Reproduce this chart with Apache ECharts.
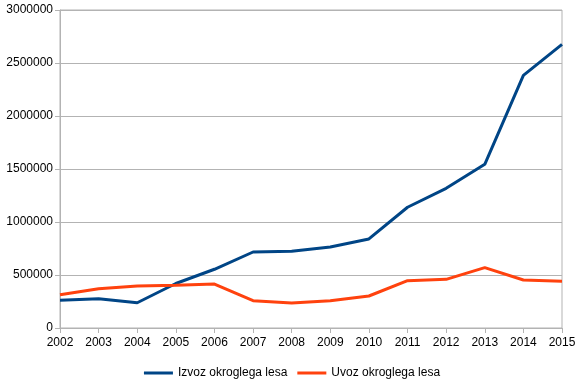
<!DOCTYPE html>
<html><head><meta charset="utf-8">
<script src="https://cdn.jsdelivr.net/npm/echarts@6/dist/echarts.min.js"></script>
<style>html,body{margin:0;padding:0;background:#fff}#c{width:584px;height:387px}</style>
</head><body><div id="c"></div>
<script>
const years = ['2002','2003','2004','2005','2006','2007','2008','2009','2010','2011','2012','2013','2014','2015'];
const izvoz = [262000, 276000, 238000, 420000, 554000, 717000, 724000, 764000, 840000, 1139000, 1318000, 1544000, 2384000, 2676000];
const uvoz = [314000, 371000, 396000, 403000, 415000, 258000, 236000, 258000, 302000, 446000, 459000, 569000, 453000, 440000];
const seriesNames = ['Izvoz okroglega lesa', 'Uvoz okroglega lesa'];

const chart = echarts.init(document.getElementById('c'), null, {renderer: 'canvas'});
const font = 'Liberation Sans';
chart.setOption({
  animation: false,
  textStyle: {fontFamily: font},
  grid: {left: 60, right: 22, top: 10, bottom: 59, containLabel: false, show: true, borderColor: '#b3b3b3', borderWidth: 1},
  legend: {
    bottom: 3, left: 'center',
    itemWidth: 29, itemHeight: 3, itemGap: 10,
    icon: 'rect',
    textStyle: {fontFamily: font, fontSize: 12, color: '#000'},
    data: seriesNames
  },
  xAxis: {
    type: 'category', data: years, boundaryGap: false,
    axisLine: {lineStyle: {color: '#b3b3b3'}},
    axisTick: {show: true, length: 5, lineStyle: {color: '#b3b3b3'}},
    axisLabel: {color: '#000', fontSize: 12, fontFamily: font, margin: 9},
    splitLine: {show: false}
  },
  yAxis: {
    type: 'value', min: 0, max: 3000000, interval: 500000,
    axisLine: {show: true, lineStyle: {color: '#b3b3b3'}},
    axisTick: {show: true, length: 5, lineStyle: {color: '#b3b3b3'}},
    axisLabel: {color: '#000', fontSize: 12, fontFamily: font, margin: 7, formatter: v => String(v)},
    splitLine: {show: true, lineStyle: {color: '#b3b3b3'}}
  },
  series: [
    {name: seriesNames[0], type: 'line', data: izvoz, symbol: 'none', lineStyle: {width: 3, color: '#004586'}, itemStyle: {color: '#004586'}},
    {name: seriesNames[1], type: 'line', data: uvoz, symbol: 'none', lineStyle: {width: 3, color: '#ff420e'}, itemStyle: {color: '#ff420e'}}
  ]
});
</script></body></html>
